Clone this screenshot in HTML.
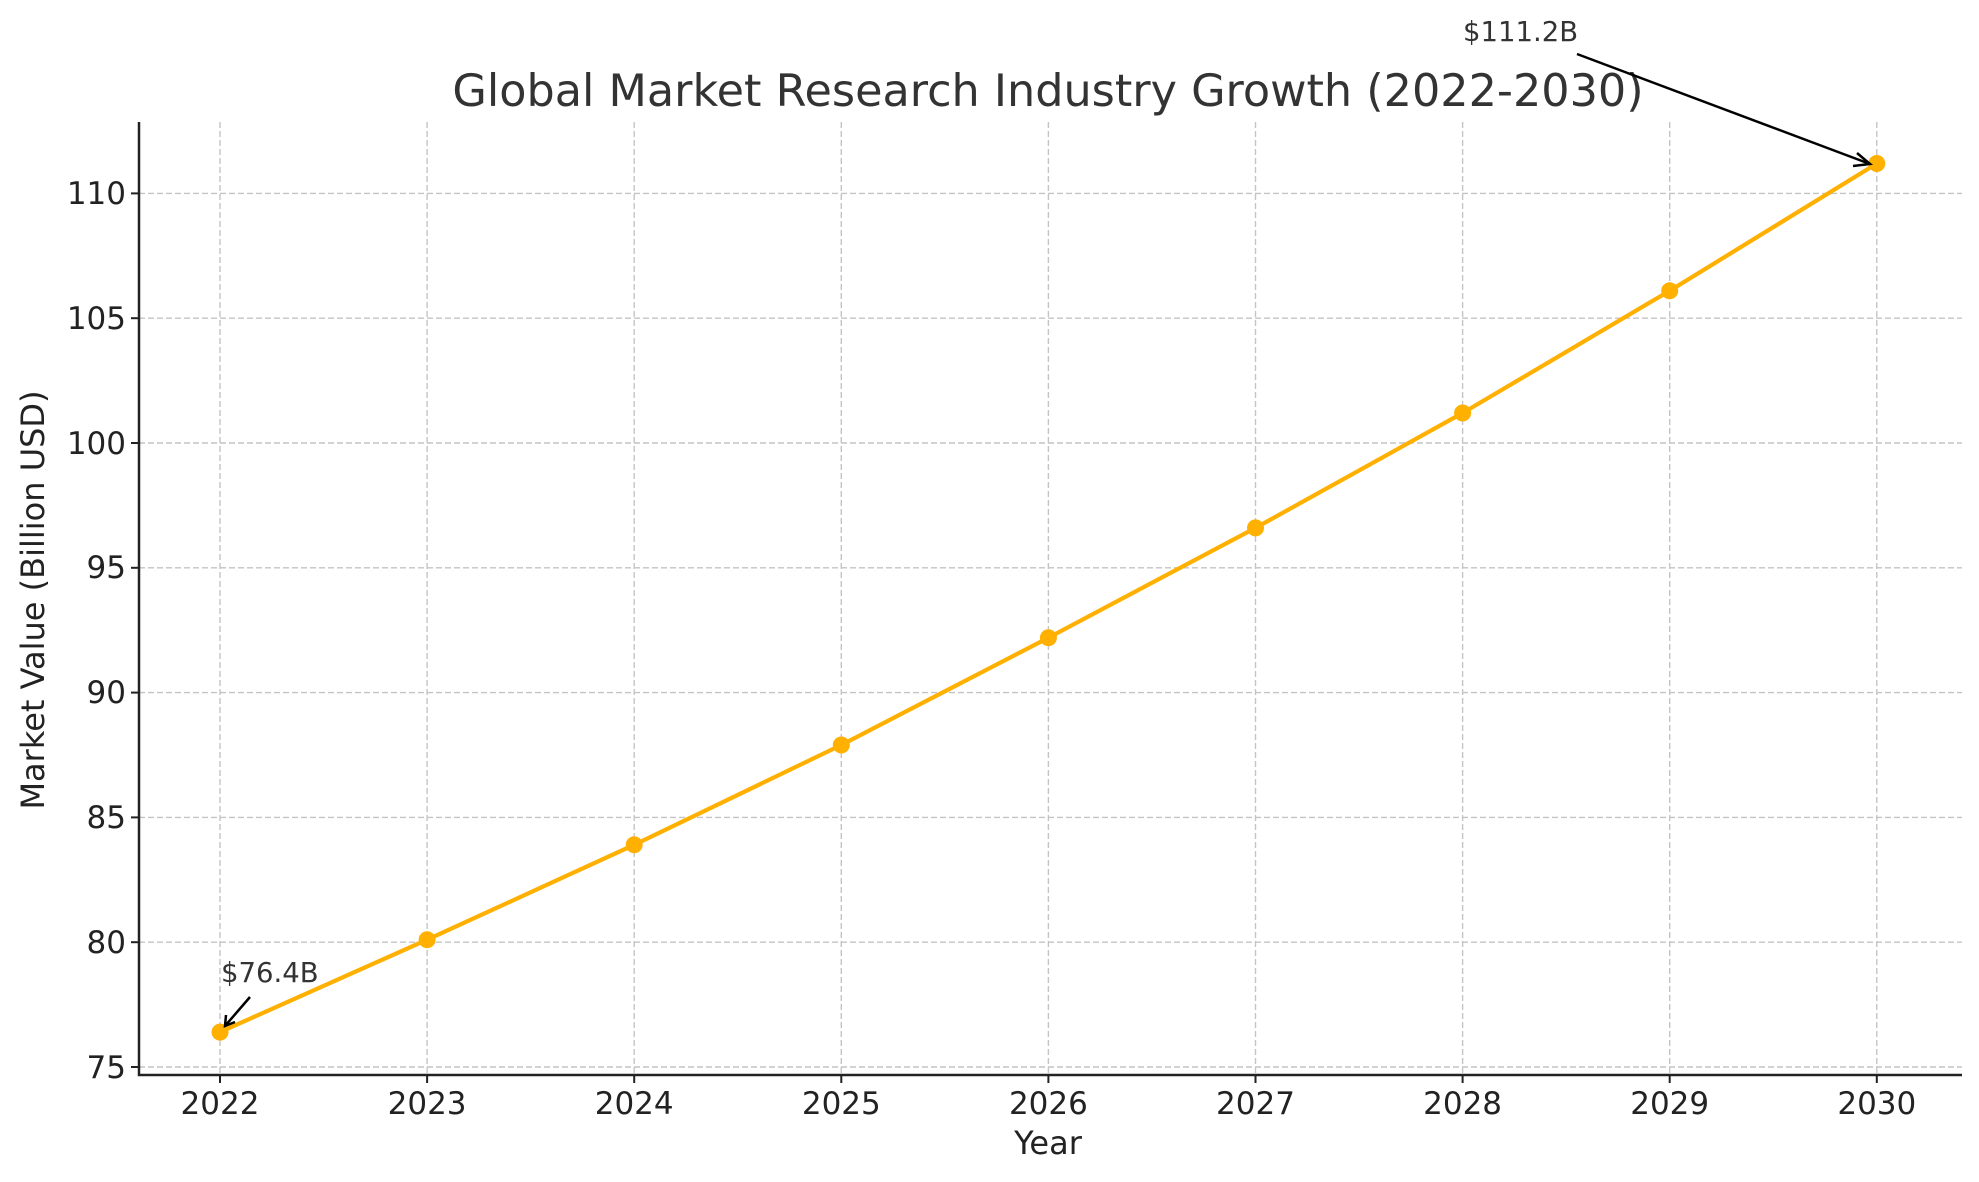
<!DOCTYPE html>
<html><head><meta charset="utf-8"><style>
html,body{margin:0;padding:0;background:#fff;}
svg{display:block;font-family:"DejaVu Sans","Liberation Sans",sans-serif;}
</style></head><body>
<svg width="1979" height="1182" viewBox="0 0 1979 1182" xmlns="http://www.w3.org/2000/svg">
<rect width="1979" height="1182" fill="#fff"/>
<g stroke="#c4c4c4" stroke-width="1.4" stroke-dasharray="6,3">
<line x1="139" x2="1962" y1="1067" y2="1067"/>
<line x1="139" x2="1962" y1="942.2" y2="942.2"/>
<line x1="139" x2="1962" y1="817.4" y2="817.4"/>
<line x1="139" x2="1962" y1="692.6" y2="692.6"/>
<line x1="139" x2="1962" y1="567.8" y2="567.8"/>
<line x1="139" x2="1962" y1="443" y2="443"/>
<line x1="139" x2="1962" y1="318.2" y2="318.2"/>
<line x1="139" x2="1962" y1="193.4" y2="193.4"/>
<line x1="220" x2="220" y1="122" y2="1075"/>
<line x1="427.1" x2="427.1" y1="122" y2="1075"/>
<line x1="634.2" x2="634.2" y1="122" y2="1075"/>
<line x1="841.3" x2="841.3" y1="122" y2="1075"/>
<line x1="1048.4" x2="1048.4" y1="122" y2="1075"/>
<line x1="1255.5" x2="1255.5" y1="122" y2="1075"/>
<line x1="1462.6" x2="1462.6" y1="122" y2="1075"/>
<line x1="1669.7" x2="1669.7" y1="122" y2="1075"/>
<line x1="1876.8" x2="1876.8" y1="122" y2="1075"/>
</g>
<g stroke="#222" stroke-width="2.5" fill="none">
<polyline points="139,122 139,1075 1962,1075"/>
</g>
<g stroke="#222" stroke-width="2">
<line x1="131" x2="139" y1="1067" y2="1067"/><line x1="131" x2="139" y1="942.2" y2="942.2"/>
<line x1="131" x2="139" y1="817.4" y2="817.4"/><line x1="131" x2="139" y1="692.6" y2="692.6"/>
<line x1="131" x2="139" y1="567.8" y2="567.8"/><line x1="131" x2="139" y1="443" y2="443"/>
<line x1="131" x2="139" y1="318.2" y2="318.2"/><line x1="131" x2="139" y1="193.4" y2="193.4"/>
<line x1="220" x2="220" y1="1075" y2="1083"/><line x1="427.1" x2="427.1" y1="1075" y2="1083"/>
<line x1="634.2" x2="634.2" y1="1075" y2="1083"/><line x1="841.3" x2="841.3" y1="1075" y2="1083"/>
<line x1="1048.4" x2="1048.4" y1="1075" y2="1083"/><line x1="1255.5" x2="1255.5" y1="1075" y2="1083"/>
<line x1="1462.6" x2="1462.6" y1="1075" y2="1083"/><line x1="1669.7" x2="1669.7" y1="1075" y2="1083"/>
<line x1="1876.8" x2="1876.8" y1="1075" y2="1083"/>
</g>
<g fill="#222" font-size="31" text-anchor="end">
<text x="126" y="1078">75</text><text x="126" y="953">80</text><text x="126" y="828">85</text>
<text x="126" y="703">90</text><text x="126" y="578">95</text><text x="126" y="454">100</text>
<text x="126" y="329">105</text><text x="126" y="204">110</text>
</g>
<g fill="#222" font-size="31" text-anchor="middle">
<text x="220" y="1114">2022</text><text x="427.1" y="1114">2023</text><text x="634.2" y="1114">2024</text>
<text x="841.3" y="1114">2025</text><text x="1048.4" y="1114">2026</text><text x="1255.5" y="1114">2027</text>
<text x="1462.6" y="1114">2028</text><text x="1669.7" y="1114">2029</text><text x="1876.8" y="1114">2030</text>
</g>
<text x="1048" y="1154" font-size="32" text-anchor="middle" fill="#222">Year</text>
<text transform="translate(44,600) rotate(-90)" font-size="32" text-anchor="middle" fill="#222">Market Value (Billion USD)</text>
<text x="1048" y="106" font-size="44.5" text-anchor="middle" fill="#333">Global Market Research Industry Growth (2022-2030)</text>
<polyline fill="none" stroke="#FFB000" stroke-width="4.2" stroke-linejoin="round" points="220,1032.1 427.1,939.7 634.2,844.8 841.3,745 1048.4,637.7 1255.5,527.9 1462.6,413 1669.7,290.8 1876.8,163.5"/>
<g fill="#FFB000">
<circle cx="220" cy="1032.1" r="8.5"/><circle cx="427.1" cy="939.7" r="8.5"/><circle cx="634.2" cy="844.8" r="8.5"/>
<circle cx="841.3" cy="745" r="8.5"/><circle cx="1048.4" cy="637.7" r="8.5"/><circle cx="1255.5" cy="527.9" r="8.5"/>
<circle cx="1462.6" cy="413" r="8.5"/><circle cx="1669.7" cy="290.8" r="8.5"/><circle cx="1876.8" cy="163.5" r="8.5"/>
</g>
<g stroke="#000" stroke-width="2.5" fill="none">
<line x1="250" y1="997" x2="225" y2="1026"/>
<polyline points="226,1015 225,1026 235,1022"/>
<line x1="1577" y1="54" x2="1870" y2="164"/>
<polyline points="1857,153 1870,164 1853,166"/>
</g>
<text x="221" y="982" font-size="27.5" fill="#333">$76.4B</text>
<text x="1463" y="41" font-size="27.5" fill="#333">$111.2B</text>
</svg>
</body></html>
